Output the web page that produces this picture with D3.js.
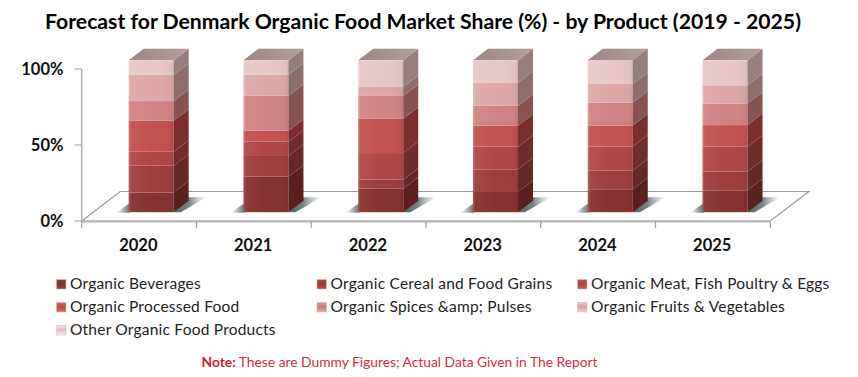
<!DOCTYPE html>
<html><head><meta charset="utf-8">
<script src="https://cdn.jsdelivr.net/npm/d3@7"></script>
<style>html,body{margin:0;padding:0;background:#fff}svg{display:block}text{font-family:Lato,"Open Sans",sans-serif}</style>
</head><body><div id="c"></div>
<script>
const years = ["2020","2021","2022","2023","2024","2025"];
const seriesNames = ["Organic Beverages","Organic Cereal and Food Grains","Organic Meat, Fish Poultry & Eggs","Organic Processed Food","Organic Spices &amp; Pulses","Organic Fruits & Vegetables","Other Organic Food Products"];
const beverages = [12.9,23.4,15.5,13.3,15.1,14.4];
const cereal = [17.7,13.6,5.9,14.9,12.3,12.3];
const meat = [9.2,9.4,17.5,14.9,15.8,16.4];
const processed = [20.4,7.2,22.5,13.8,13.8,14.2];
const spices = [12.9,23,15.1,13.1,15.1,14.2];
const fruits = [17.3,13.8,5.9,15.1,12.3,12];
const other = [9.6,9.6,17.5,14.9,15.8,16.4];
const seriesValues = [beverages,cereal,meat,processed,spices,fruits,other];
const colors = ["#86322f","#9e3f3c","#b04845","#c2524d","#cf8482","#dda9a8","#e8c6c7"];
const sideColors = ["#5a211f","#652927","#6e2d2b","#7a2f2c","#875453","#8f6d6c","#977f7f"];
const yTicks = [0,50,100];

const W=858,H=377;
const svg=d3.select("#c").append("svg").attr("width",W).attr("height",H);
const defs=svg.append("defs");
const x=d3.scaleBand().domain(years).range([81.7,770.3]);
const y=d3.scaleLinear().domain([0,100]).range([221,69]);
const dx=38.5, dy=-29.5;
const by=-8.8, barW=45;
const sdx=15, sdy=-11.5;

svg.append("text").attr("x",423).attr("y",28.5).attr("text-anchor","middle").attr("font-size",21.2).attr("font-weight",700).attr("fill","#000").text("Forecast for Denmark Organic Food Market Share (%) - by Product (2019 - 2025)");

const [x0,x1]=x.range();
svg.append("path").attr("d",`M${x0},${y(0)}L${x0+dx},${y(0)+dy}L${x1+dx},${y(0)+dy}L${x1},${y(0)}Z`).attr("fill","#fff").attr("stroke","#9a9a9a").attr("stroke-width",1.2);
svg.append("line").attr("x1",x0).attr("x2",x1).attr("y1",y(0)+.5).attr("y2",y(0)+.5).attr("stroke","#b5b5b5").attr("stroke-width",2);
svg.append("line").attr("x1",x0).attr("x2",x0).attr("y1",y(100)).attr("y2",y(0)).attr("stroke","#b0b0b0").attr("stroke-width",1.5);
yTicks.forEach(t=>svg.append("line").attr("x1",x0-7).attr("x2",x0).attr("y1",y(t)).attr("y2",y(t)).attr("stroke","#b0b0b0").attr("stroke-width",1.2));
d3.range(years.length+1).forEach(i=>{const px=x0+i*x.step();
  svg.append("line").attr("x1",px).attr("x2",px).attr("y1",y(0)).attr("y2",y(0)+7).attr("stroke","#a0a0a0").attr("stroke-width",1.2);});
yTicks.forEach(t=>svg.append("text").attr("x",63.5).attr("y",y(t)+6).attr("text-anchor","end").attr("font-size",16.5).attr("font-weight",700).attr("fill","#111").text(t+"%"));
years.forEach(d=>svg.append("text").attr("x",x(d)+x.bandwidth()/2-0.7).attr("y",251).attr("text-anchor","middle").attr("font-size",16.5).attr("font-weight",700).attr("fill","#111").text(d));

const shadow=defs.append("linearGradient").attr("id","sh").attr("x1",0).attr("x2",1);
[[0,"#4f5a5a",.95],[.45,"#5f6b6b",.85],[1,"#a4acac",.05]].forEach(s=>shadow.append("stop").attr("offset",s[0]).attr("stop-color",s[1]).attr("stop-opacity",s[2]));
const shadowL=defs.append("linearGradient").attr("id","shl").attr("x1",1).attr("x2",0);
[[0,"#556060",.9],[.4,"#7a8484",.7],[1,"#a0a8a8",0]].forEach(s=>shadowL.append("stop").attr("offset",s[0]).attr("stop-color",s[1]).attr("stop-opacity",s[2]));
const sheen=defs.append("linearGradient").attr("id","sheen").attr("x1",0).attr("x2",1);
[[0,"#fff",.22],[.05,"#fff",.05],[.5,"#fff",0],[.95,"#000",.03],[1,"#000",.1]].forEach(s=>sheen.append("stop").attr("offset",s[0]).attr("stop-color",s[1]).attr("stop-opacity",s[2]));
const topG=defs.append("linearGradient").attr("id","topg").attr("x1",0).attr("x2",1);
[[0,"#a08585"],[1,"#b29e9e"]].forEach(s=>topG.append("stop").attr("offset",s[0]).attr("stop-color",s[1]));
colors.forEach((c,i)=>{
  const g=defs.append("linearGradient").attr("id","sw"+i).attr("x1",0).attr("x2",0).attr("y1",0).attr("y2",1);
  [[0,d3.color(c).brighter(.35)],[.45,d3.color(c).darker(.15)],[1,d3.color(c).brighter(.5)]].forEach(s=>g.append("stop").attr("offset",s[0]).attr("stop-color",s[1]));
});

const stacks=years.map((yr,i)=>{let c=0;return seriesValues.map((vals,k)=>{const a=c;c+=vals[i];return{yr,k,a,b:c};});});
stacks.forEach(st=>{
  const yr=st[0].yr;
  const fx=x(yr)+47;
  const base=y(0)+by;
  const g=svg.append("g");
  g.append("path").attr("d",`M${fx+barW},${base}L${fx+barW+sdx},${base-15}L${fx+barW+33},${base-15}L${fx+barW+7},${base}Z`).attr("fill","url(#sh)");
  g.append("path").attr("d",`M${fx+1},${base+0.5}L${fx+1},${base-9}L${fx-13},${base+0.5}Z`).attr("fill","url(#shl)");
  st.forEach(s=>{
    const t=y(s.b)+by,b=y(s.a)+by;
    g.append("rect").attr("x",fx).attr("y",t).attr("width",barW).attr("height",b-t).attr("fill",colors[s.k]);
    g.append("path").attr("d",`M${fx+barW},${b}L${fx+barW+sdx},${b+sdy}L${fx+barW+sdx},${t+sdy}L${fx+barW},${t}Z`).attr("fill",sideColors[s.k]);
  });
  const top=y(100)+by;
  g.append("path").attr("d",`M${fx},${top}L${fx+sdx},${top+sdy}L${fx+barW+sdx},${top+sdy}L${fx+barW},${top}Z`).attr("fill","url(#topg)");
  g.append("rect").attr("x",fx).attr("y",top).attr("width",barW).attr("height",base-top).attr("fill","url(#sheen)");
  g.append("rect").attr("x",fx).attr("y",top).attr("width",barW).attr("height",1.2).attr("fill","#fff").attr("opacity",.3);
});

const legendCols=[56.5,317,577.5], legendRows=[279.5,302.5,325.5];
seriesNames.forEach((n,i)=>{
  const cx=legendCols[i%3], cy=legendRows[Math.floor(i/3)];
  svg.append("rect").attr("x",cx).attr("y",cy).attr("width",9.5).attr("height",9.5).attr("fill",`url(#sw${i})`).attr("stroke","#c4c4c4").attr("stroke-width",.6);
  svg.append("text").attr("x",cx+13.5).attr("y",cy+9.5).attr("font-size",15.5).attr("letter-spacing",.22).attr("fill","#222").text(n);
});
const note=svg.append("text").attr("x",399.5).attr("y",366.5).attr("text-anchor","middle").attr("font-size",13.8).attr("fill","#d0303c");
note.append("tspan").attr("font-weight",700).attr("fill","#c8202e").text("Note:");
note.append("tspan").text(" These are Dummy Figures; Actual Data Given in The Report");
</script></body></html>
